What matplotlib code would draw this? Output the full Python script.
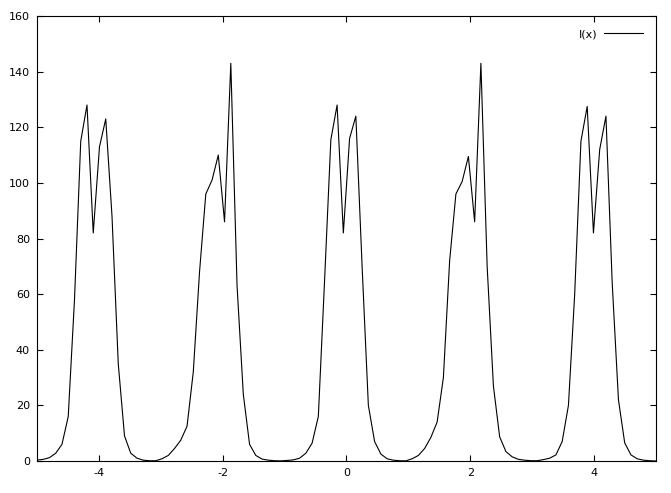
import matplotlib
matplotlib.use("Agg")
import matplotlib.pyplot as plt
import numpy as np

# gnuplot-style sampling: 100 samples over [-5, 5]
x_min, x_max, n_samples = -5, 5, 100

# I(x), one value per sample
intensity = [
    0.3, 0.6, 1.2, 2.8, 6.0, 16, 58, 115, 128, 82,
    113, 123, 88, 35, 9, 2.8, 1.0, 0.3, 0.1, 0.1,
    0.8, 2.0, 4.5, 7.5, 12.5, 32, 68, 96, 101, 110,
    86, 143, 63, 24, 6, 2, 0.7, 0.3, 0.1, 0.05,
    0.2, 0.4, 1.0, 2.8, 6.4, 16, 65, 115.5, 128, 82,
    116, 124, 70, 20, 7, 2.5, 0.8, 0.3, 0.1, 0.05,
    0.8, 2.0, 4.5, 8.5, 14, 30, 72, 96, 100.5, 109.5,
    86, 143, 70, 27, 8.7, 3.4, 1.5, 0.6, 0.3, 0.1,
    0.1, 0.5, 1.0, 2.2, 7, 20, 60, 115, 127.5, 82,
    112, 124, 64, 22, 6.5, 2.2, 0.8, 0.3, 0.1, 0.0,
]

x_ticks = [-4, -2, 0, 2, 4]
y_ticks = [0, 20, 40, 60, 80, 100, 120, 140, 160]

x = np.linspace(x_min, x_max, n_samples)

fig = plt.figure(figsize=(6.71, 4.93), dpi=100)
ax = fig.add_axes([0.0551, 0.0649, 0.9225, 0.9026])

ax.plot(x, intensity, color="black", lw=0.8, label="I(x)")

ax.set_xlim(x_min, x_max)
ax.set_ylim(0, 160)
ax.set_xticks(x_ticks)
ax.set_yticks(y_ticks)
ax.set_xticklabels([str(t) for t in x_ticks])
ax.tick_params(direction="in", length=4, width=0.8, top=True, right=True,
               labelsize=8, pad=5)

for s in ax.spines.values():
    s.set_linewidth(0.8)

ax.legend(loc="upper right", frameon=False, markerfirst=False,
          handlelength=3.5, handletextpad=0.6, fontsize=8, borderaxespad=0.8)

fig.savefig("out.png", dpi=100)
